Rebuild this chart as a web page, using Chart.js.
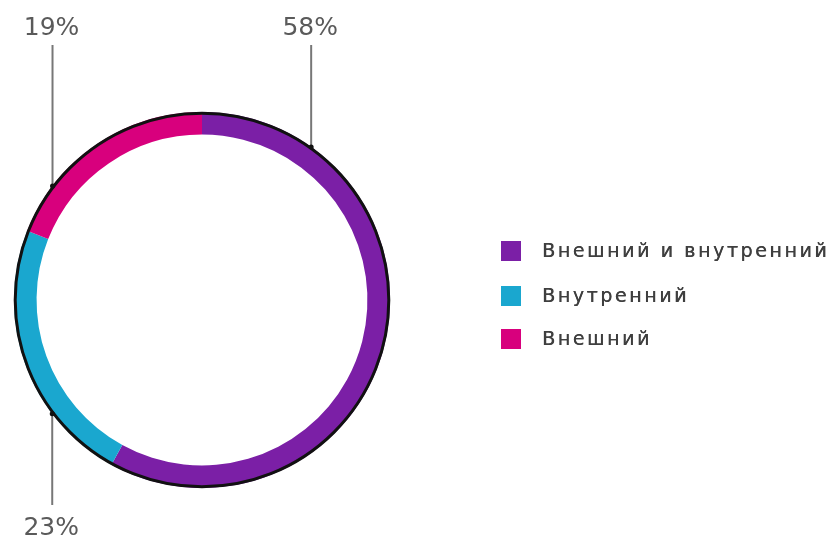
<!DOCTYPE html>
<html>
<head>
<meta charset="utf-8">
<script src="https://cdn.jsdelivr.net/npm/chart.js@4"></script>
<style>
  html, body { margin: 0; padding: 0; background: #fff; }
  #wrap { width: 830px; height: 544px; position: relative; }
</style>
</head>
<body>
<div id="wrap"><canvas id="chart"></canvas></div>
<script>
// data
var categories = ['Внешний и внутренний', 'Внутренний', 'Внешний'];
var shares = [58, 23, 19];
var sliceColors = ['#7b1fa6', '#1aa7cf', '#d8007d'];

// where the leader line leaves each slice (fraction of the arc) and which way it goes
var leaders = [
  { at: 0.17, dir: 'up' },
  { at: 0.29, dir: 'down' },
  { at: 0.23, dir: 'up' }
];

var calloutPlugin = {
  id: 'callouts',
  afterDatasetsDraw: function (chart) {
    var ctx = chart.ctx;
    var meta = chart.getDatasetMeta(0);
    var first = meta.data[0];
    var cx = first.x, cy = first.y, R = first.outerRadius;

    // black outer rim
    ctx.save();
    ctx.beginPath();
    ctx.arc(cx, cy, R - 1.2, 0, Math.PI * 2);
    ctx.lineWidth = 3;
    ctx.strokeStyle = '#111';
    ctx.stroke();

    // leader lines and percent labels
    meta.data.forEach(function (arc, i) {
      var a = arc.startAngle + (arc.endAngle - arc.startAngle) * leaders[i].at;
      var px = cx + Math.cos(a) * R;
      var py = cy + Math.sin(a) * R;
      var endY = leaders[i].dir === 'up' ? 45 : 505;
      ctx.beginPath();
      ctx.moveTo(px, py);
      ctx.lineTo(px, endY);
      ctx.lineWidth = 2;
      ctx.strokeStyle = '#777';
      ctx.stroke();
      ctx.beginPath();
      ctx.arc(px, py, 2.5, 0, Math.PI * 2);
      ctx.fillStyle = '#111';
      ctx.fill();

      ctx.font = '25px "DejaVu Sans"';
      ctx.fillStyle = '#5a5a5a';
      ctx.textAlign = 'center';
      ctx.textBaseline = 'middle';
      ctx.fillText(shares[i] + '%', px - 1, leaders[i].dir === 'up' ? 28 : 528);
    });

    // legend
    var ys = [251, 296, 339];
    categories.forEach(function (c, i) {
      ctx.fillStyle = sliceColors[i];
      ctx.fillRect(501, ys[i] - 10, 20, 20);
      ctx.font = '19px "DejaVu Sans"';
      ctx.letterSpacing = '2.6px';
      ctx.fillStyle = '#3f3f3f';
      ctx.textAlign = 'left';
      ctx.textBaseline = 'middle';
      ctx.fillText(c, 542, ys[i] + 1);
      ctx.fillText(c, 542.4, ys[i] + 1);
      ctx.letterSpacing = '0px';
    });
    ctx.restore();
  }
};

new Chart(document.getElementById('chart'), {
  type: 'doughnut',
  data: {
    labels: categories,
    datasets: [{
      data: shares,
      backgroundColor: sliceColors,
      borderWidth: 0
    }]
  },
  options: {
    responsive: true,
    maintainAspectRatio: false,
    animation: false,
    cutout: '88%',
    layout: { padding: { left: 14, right: 440, top: 112, bottom: 56 } },
    plugins: {
      legend: { display: false },
      tooltip: { enabled: false }
    }
  },
  plugins: [calloutPlugin]
});
</script>
</body>
</html>
